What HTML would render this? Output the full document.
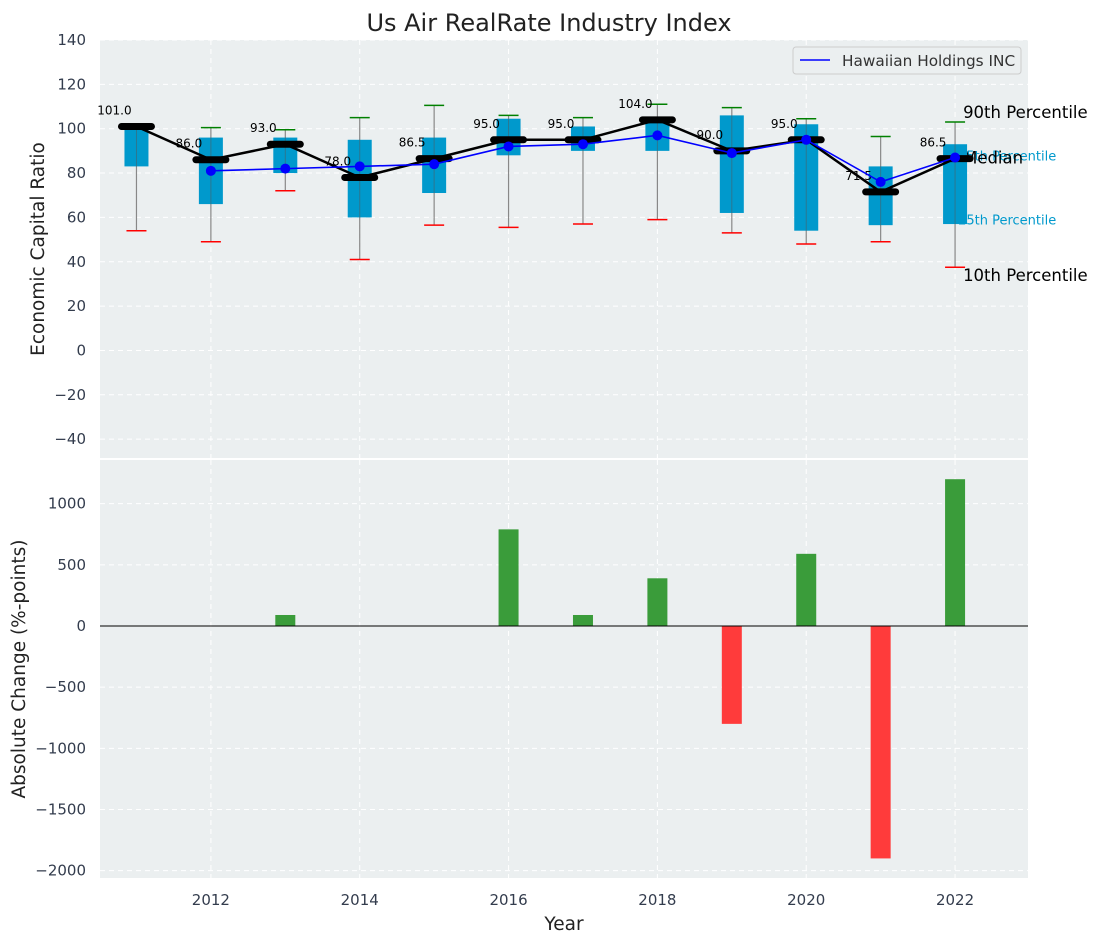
<!DOCTYPE html>
<html><head><meta charset="utf-8"><style>
body{margin:0;background:#fff;font-family:"Liberation Sans","DejaVu Sans",sans-serif}
svg text{font-family:"DejaVu Sans","Liberation Sans",sans-serif}
</style></head><body>
<svg id="c" width="1098" height="942" xmlns="http://www.w3.org/2000/svg"></svg>
<script>
const years=[2011,2012,2013,2014,2015,2016,2017,2018,2019,2020,2021,2022];
const q1=[83,66,80,60,71,88,90,90,62,54,56.5,57];
const q3=[102,96,96,95,96,104.5,101,105,106,102,83,93];
const p10=[54,49,72,41,56.5,55.5,57,59,53,48,49,37.5];
const p90=[102,100.5,99.5,105,110.5,106,105,111,109.5,104.5,96.5,103];
const medians=[101,86,93,78,86.5,95,95,104,90,95,71.5,86.5];
const company=[null,81,82,83,84,92,93,97,89,95,76,87];
const changes=[0,0,90,0,0,790,90,390,-800,590,-1900,1200];
const topTicks=[-40,-20,0,20,40,60,80,100,120,140];
const botTicks=[-2000,-1500,-1000,-500,0,500,1000];
const xTicks=[2012,2014,2016,2018,2020,2022];

const svg=document.getElementById('c');const NS='http://www.w3.org/2000/svg';
function el(t,a,txt,p){const e=document.createElementNS(NS,t);for(const k in a)e.setAttribute(k,a[k]);if(txt!=null)e.textContent=txt;(p||svg).appendChild(e);return e;}
const L=100,R=1028;
const X=v=>L+(v-2010.51)/(2022.98-2010.51)*(R-L);
const T0=40,T1=458,B0=460,B1=878;
const YT=v=>T0+(140-v)/(140-(-48.5))*(T1-T0);
const YB=v=>B0+(1357-v)/(1357-(-2060))*(B1-B0);

let r;
r=el('rect',{x:L,y:T0,width:R-L,height:T1-T0,fill:'#ebeff0'});
r=el('rect',{x:L,y:B0,width:R-L,height:B1-B0,fill:'#ebeff0'});
topTicks.forEach(t=>{const y=YT(t);el('line',{x1:L,x2:R,y1:y,y2:y,stroke:'#fff','stroke-dasharray':'5,4'});
 const tx=el('text',{x:L-14,y:y+5,'text-anchor':'end','font-size':15,fill:'#333c4d'},t<0?'−'+(-t):t);});
botTicks.forEach(t=>{const y=YB(t);el('line',{x1:L,x2:R,y1:y,y2:y,stroke:'#fff','stroke-dasharray':'5,4'});
 const tx=el('text',{x:L-14,y:y+5,'text-anchor':'end','font-size':15,fill:'#333c4d'},t<0?'−'+(-t):t);});
xTicks.forEach(t=>{const x=X(t);el('line',{x1:x,x2:x,y1:T0,y2:T1,stroke:'#fff','stroke-dasharray':'5,4'});el('line',{x1:x,x2:x,y1:B0,y2:B1,stroke:'#fff','stroke-dasharray':'5,4'});
 const tx=el('text',{x:x,y:905,'text-anchor':'middle','font-size':15,fill:'#333c4d'},t);});
const lx=X(2022)+8;const last=years.length-1;
[['90th Percentile',p90[last]+4,'#000',16.5],['75th Percentile',q3[last]-5,'#0099cc',13],['Median',medians[last],'#000',16.5],['25th Percentile',q1[last]+2,'#0099cc',13],['10th Percentile',p10[last]-4,'#000',16.5]].forEach(d=>{
 const t=el('text',{x:d[2]=='#000'?lx:lx-5,y:YT(d[1])+5,'font-size':d[3],fill:d[2]},d[0]);});
years.forEach((yr,i)=>{const x=X(yr);
 const w=el('line',{x1:x,x2:x,y1:YT(p10[i]),y2:YT(p90[i]),stroke:'#888','stroke-width':1.2});
 const b=el('rect',{x:x-12,y:YT(q3[i]),width:24,height:YT(q1[i])-YT(q3[i]),fill:'#0099cc'});
 el('line',{x1:x,x2:x,y1:YT(q3[i]),y2:YT(q1[i]),stroke:'#555','stroke-opacity':0.5,'stroke-width':1});
 const g=el('line',{x1:x-10,x2:x+10,y1:YT(p90[i]),y2:YT(p90[i]),stroke:'green','stroke-width':1.5});
 const rd=el('line',{x1:x-10,x2:x+10,y1:YT(p10[i]),y2:YT(p10[i]),stroke:'red','stroke-width':1.5});
});
let pts=years.map((y,i)=>X(y)+','+YT(medians[i])).join(' ');
r=el('polyline',{points:pts,fill:'none',stroke:'#000','stroke-width':2.5});
years.forEach((yr,i)=>{const x=X(yr),y=YT(medians[i]);
 const m=el('line',{x1:x-15,x2:x+15,y1:y,y2:y,stroke:'#000','stroke-width':7,'stroke-linecap':'round'});
 const t=el('text',{x:x-22,y:y-12,'text-anchor':'middle','font-size':12,fill:'#000'},medians[i].toFixed(1));});
const cp=[];years.forEach((y,i)=>{if(company[i]!=null)cp.push([X(y),YT(company[i])]);});
r=el('polyline',{points:cp.map(p=>p.join(',')).join(' '),fill:'none',stroke:'blue','stroke-width':1.6});
cp.forEach(p=>{const c=el('circle',{cx:p[0],cy:p[1],r:5,fill:'blue'});});
const lg=el('g',{});
el('rect',{x:793,y:47,width:228,height:27,rx:3,fill:'#ebeff0',stroke:'#ccc'},null,lg);
el('line',{x1:800,x2:830,y1:60,y2:60,stroke:'blue','stroke-width':1.6},null,lg);
el('text',{x:842,y:66,'font-size':15.3,fill:'#333'},'Hawaiian Holdings INC',lg);
years.forEach((yr,i)=>{if(!changes[i])return;const x=X(yr);const y0=YB(0),y1=YB(changes[i]);
 const b=el('rect',{x:x-10,y:Math.min(y0,y1),width:20,height:Math.abs(y1-y0),fill:changes[i]>0?'#3a9c3a':'#ff3b3b'});});
el('line',{x1:L,x2:R,y1:YB(0),y2:YB(0),stroke:'#000','stroke-width':1});
let t;
t=el('text',{x:549,y:31,'text-anchor':'middle','font-size':24,fill:'#222'},'Us Air RealRate Industry Index');
t=el('text',{x:0,y:0,'text-anchor':'middle','font-size':18.5,fill:'#222',transform:'translate(44,249) rotate(-90)'},'Economic Capital Ratio');
t=el('text',{x:0,y:0,'text-anchor':'middle','font-size':18.5,fill:'#222',transform:'translate(25,669) rotate(-90)'},'Absolute Change (%-points)');
t=el('text',{x:564,y:930,'text-anchor':'middle','font-size':18.5,fill:'#222'},'Year');
</script>
</body></html>
